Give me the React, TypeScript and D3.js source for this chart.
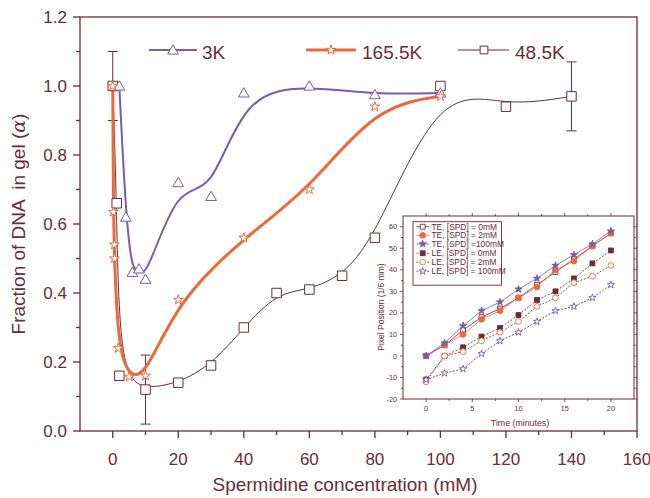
import React from "react";
import * as d3 from "d3";

// ---------- main chart data ----------
const conc3K = [2, 4, 6, 8, 10, 20, 30, 40, 60, 80, 100];
const frac3K = [1.0, 0.62, 0.46, 0.47, 0.44, 0.72, 0.68, 0.98, 1.0, 0.975, 0.98];
const conc165 = [0, 0.2, 0.5, 0.5, 1.7, 5, 10, 20, 40, 60, 80, 100];
const frac165 = [1.0, 0.635, 0.54, 0.5, 0.24, 0.157, 0.16, 0.38, 0.56, 0.7, 0.94, 0.97];
const conc48 = [0, 1.2, 2, 10, 20, 30, 40, 50, 60, 70, 80, 100, 120, 140];
const frac48 = [1.0, 0.66, 0.16, 0.12, 0.14, 0.19, 0.3, 0.4, 0.41, 0.45, 0.56, 1.0, 0.94, 0.97];
const errConc = [0, 10, 140];
const errLow = [0.9, 0.02, 0.87];
const errHigh = [1.1, 0.22, 1.07];
const xTicksMain = [0, 20, 40, 60, 80, 100, 120, 140, 160];
const xMinorMain = [10, 30, 50, 70, 90, 110, 130, 150];
const yTicksMain = [0, 0.2, 0.4, 0.6, 0.8, 1.0, 1.2];
const yMinorMain = [0.1, 0.3, 0.5, 0.7, 0.9, 1.1];

// ---------- inset data ----------
const timeMin = [0, 2, 4, 6, 8, 10, 12, 14, 16, 18, 20];
const te0 = [0, 5, 12, 18, 22, 27, 33, 39, 45, 51, 57];
const te2 = [0, 5, 10, 17, 21, 27, 32, 40, 44, 51, 57];
const te100 = [0, 6, 14, 21, 25, 31, 36, 42, 47, 52, 58];
const le0 = [-11, 0, 4, 9, 13, 19, 26, 30, 36, 43, 49];
const le2 = [-12, 0, 2, 7, 11, 16, 23, 27, 34, 37, 42];
const le100 = [-11, -8, -6, 1, 7, 11, 16, 21, 23, 27, 33];
const insetLabels = [
  "TE, [SPD] = 0mM",
  "TE, [SPD] = 2mM",
  "TE, [SPD] =100mM",
  "LE, [SPD] = 0mM",
  "LE, [SPD] = 2mM",
  "LE, [SPD] = 100mM",
];
const xTicksInset = [0, 5, 10, 15, 20];
const xMinorInset = [2.5, 7.5, 12.5, 17.5];
const yTicksInset = [-20, -10, 0, 10, 20, 30, 40, 50, 60];
const yMinorInset = [-15, -5, 5, 15, 25, 35, 45, 55];

const MAROON = "#6b2b38";
const PURPLE = "#7a5ca8";
const ORANGE = "#ec6a3a";
const FONT = "'Liberation Sans', Arial, Helvetica, sans-serif";

export default function App() {
  const x = d3.scaleLinear().domain([-10, 160]).range([80, 637]);
  const y = d3.scaleLinear().domain([0, 1.2]).range([431, 17]);
  const ix = d3.scaleLinear().domain([-2.5, 22.5]).range([403, 634]);
  const iy = d3.scaleLinear().domain([-20, 65]).range([399, 216]);

  const curve = d3
    .line<[number, number]>()
    .x((d) => x(d[0]))
    .y((d) => y(d[1]))
    .curve(d3.curveBasis);
  const zip = (a: number[], b: number[]) => a.map((v, i) => [v, b[i]] as [number, number]);

  const tri = d3.symbol().type(d3.symbolTriangle).size(50)()!;
  const star = d3.symbol().type(d3.symbolStar).size(30)()!;
  const sq = d3.symbol().type(d3.symbolSquare).size(90)()!;

  const iline = d3
    .line<[number, number]>()
    .x((d) => ix(d[0]))
    .y((d) => iy(d[1]));

  const isq = d3.symbol().type(d3.symbolSquare).size(24)()!;
  const icirc = d3.symbol().type(d3.symbolCircle).size(26)()!;
  const istar = d3.symbol().type(d3.symbolStar).size(16)()!;

  const insetSeries = [
    { vals: te0, color: MAROON, lineColor: MAROON, dash: undefined, sym: isq, fill: "white" },
    { vals: te2, color: ORANGE, lineColor: ORANGE, dash: undefined, sym: icirc, fill: ORANGE },
    { vals: te100, color: PURPLE, lineColor: PURPLE, dash: undefined, sym: istar, fill: PURPLE },
    { vals: le0, color: MAROON, lineColor: MAROON, dash: "2,1.5", sym: isq, fill: MAROON },
    { vals: le2, color: ORANGE, lineColor: MAROON, dash: "2,1.5", sym: icirc, fill: "white" },
    { vals: le100, color: PURPLE, lineColor: MAROON, dash: "2,1.5", sym: istar, fill: "white" },
  ];

  const legendRowsY = [226.7, 235.3, 244, 253.2, 262.2, 271.2];

  return (
    <svg
      width={650}
      height={498}
      style={{ position: "absolute", left: 0, top: 0, background: "white" }}
      fontFamily={FONT}
    >
      {/* main frame */}
      <rect x={80} y={17} width={557} height={414} fill="none" stroke={MAROON} strokeWidth={1.3} />
      {/* y ticks */}
      {yTicksMain.map((t) => (
        <g key={"yt" + t}>
          <line x1={73} x2={80} y1={y(t)} y2={y(t)} stroke={MAROON} strokeWidth={1.3} />
          <text x={67} y={y(t) + 6} textAnchor="end" fontSize={17} fill={MAROON}>
            {t.toFixed(1)}
          </text>
        </g>
      ))}
      {yMinorMain.map((t) => (
        <line key={"ym" + t} x1={76} x2={80} y1={y(t)} y2={y(t)} stroke={MAROON} strokeWidth={1.3} />
      ))}
      {xTicksMain.map((t) => (
        <g key={"xt" + t}>
          <line x1={x(t)} x2={x(t)} y1={431} y2={438} stroke={MAROON} strokeWidth={1.3} />
          <text x={x(t)} y={465} textAnchor="middle" fontSize={17} fill={MAROON}>
            {t}
          </text>
        </g>
      ))}
      {xMinorMain.map((t) => (
        <line key={"xm" + t} x1={x(t)} x2={x(t)} y1={431} y2={435} stroke={MAROON} strokeWidth={1.3} />
      ))}
      <text x={345} y={491} textAnchor="middle" fontSize={19} fill={MAROON}>
        Spermidine concentration (mM)
      </text>
      <text
        transform="translate(25,224) rotate(-90)"
        textAnchor="middle"
        fontSize={19}
        fill={MAROON}
        style={{ whiteSpace: "pre" }}
      >
        {"Fraction of DNA  in gel ("}
        <tspan fontStyle="italic" fontFamily="'DejaVu Serif', serif">α</tspan>
        {")"}
      </text>

      {/* error bars */}
      {errConc.map((c, i) => (
        <g key={"eb" + i} stroke={MAROON} strokeWidth={1}>
          <line x1={x(c)} x2={x(c)} y1={y(errLow[i])} y2={y(errHigh[i])} />
          <line x1={x(c) - 5} x2={x(c) + 5} y1={y(errLow[i])} y2={y(errLow[i])} />
          <line x1={x(c) - 5} x2={x(c) + 5} y1={y(errHigh[i])} y2={y(errHigh[i])} />
        </g>
      ))}

      {/* curves */}
      <path d={curve(zip(conc48, frac48))!} fill="none" stroke={MAROON} strokeWidth={1} />
      <path d={curve(zip(conc3K, frac3K))!} fill="none" stroke={PURPLE} strokeWidth={2} />
      <path d={curve(zip(conc165, frac165))!} fill="none" stroke={ORANGE} strokeWidth={3} />

      {/* markers */}
      {conc48.map((c, i) => (
        <path key={"s48" + i} d={sq} transform={`translate(${x(c)},${y(frac48[i])})`} fill="white" stroke={MAROON} strokeWidth={1} />
      ))}
      {conc3K.map((c, i) => (
        <path key={"s3" + i} d={tri} transform={`translate(${x(c)},${y(frac3K[i]) + 1})`} fill="white" stroke={PURPLE} strokeWidth={1} />
      ))}
      {conc165.map((c, i) => (
        <path key={"s165" + i} d={star} transform={`translate(${x(c)},${y(frac165[i])})`} fill="white" stroke={ORANGE} strokeWidth={1} />
      ))}

      {/* main legend */}
      <line x1={149} x2={197} y1={50} y2={50} stroke={PURPLE} strokeWidth={2} />
      <path d={tri} transform="translate(173,51)" fill="white" stroke={PURPLE} strokeWidth={1} />
      <text x={202} y={58.5} fontSize={19} fill={MAROON}>3K</text>
      <line x1={306} x2={356} y1={50} y2={50} stroke={ORANGE} strokeWidth={3} />
      <path d={star} transform="translate(331,50)" fill="white" stroke={ORANGE} strokeWidth={1} />
      <text x={362} y={58.5} fontSize={19} fill={MAROON}>165.5K</text>
      <line x1={458} x2={509} y1={50} y2={50} stroke={MAROON} strokeWidth={1} />
      <path d={d3.symbol().type(d3.symbolSquare).size(60)()!} transform="translate(484,50)" fill="white" stroke={MAROON} strokeWidth={1} />
      <text x={515} y={58.5} fontSize={19} fill={MAROON}>48.5K</text>

      {/* ---------- inset ---------- */}
      <rect x={403} y={216} width={231} height={183} fill="white" stroke={MAROON} strokeWidth={1} />
      {yTicksInset.map((t) => (
        <g key={"iyt" + t}>
          <line x1={400} x2={403} y1={iy(t)} y2={iy(t)} stroke={MAROON} strokeWidth={0.8} />
          <line x1={634} x2={637} y1={iy(t)} y2={iy(t)} stroke={MAROON} strokeWidth={0.8} />
          <text x={397} y={iy(t) + 2.6} textAnchor="end" fontSize={7.3} fill={MAROON}>
            {t}
          </text>
        </g>
      ))}
      {yMinorInset.map((t) => (
        <g key={"iym" + t}>
          <line x1={401} x2={403} y1={iy(t)} y2={iy(t)} stroke={MAROON} strokeWidth={0.8} />
          <line x1={634} x2={636} y1={iy(t)} y2={iy(t)} stroke={MAROON} strokeWidth={0.8} />
        </g>
      ))}
      {xTicksInset.map((t) => (
        <g key={"ixt" + t}>
          <line x1={ix(t)} x2={ix(t)} y1={399} y2={402} stroke={MAROON} strokeWidth={0.8} />
          <line x1={ix(t)} x2={ix(t)} y1={213} y2={216} stroke={MAROON} strokeWidth={0.8} />
          <text x={ix(t)} y={411} textAnchor="middle" fontSize={7.3} fill={MAROON}>
            {t}
          </text>
        </g>
      ))}
      {xMinorInset.map((t) => (
        <g key={"ixm" + t}>
          <line x1={ix(t)} x2={ix(t)} y1={399} y2={401} stroke={MAROON} strokeWidth={0.8} />
          <line x1={ix(t)} x2={ix(t)} y1={214} y2={216} stroke={MAROON} strokeWidth={0.8} />
        </g>
      ))}
      <text x={520} y={426} textAnchor="middle" fontSize={8.8} fill={MAROON}>
        Time (minutes)
      </text>
      <text transform="translate(384,307) rotate(-90)" textAnchor="middle" fontSize={8.5} fill={MAROON}>
        Pixel Position (1/6 mm)
      </text>

      {insetSeries.map((s, k) => (
        <g key={"is" + k}>
          <path
            d={iline(zip(timeMin, s.vals))!}
            fill="none"
            stroke={s.lineColor}
            strokeWidth={0.8}
            strokeDasharray={s.dash}
          />
          {timeMin.map((t, i) => (
            <path
              key={i}
              d={s.sym}
              transform={`translate(${ix(t)},${iy(s.vals[i])})`}
              fill={s.fill}
              stroke={s.color}
              strokeWidth={0.9}
            />
          ))}
        </g>
      ))}

      {/* inset legend */}
      <rect x={413} y={221.7} width={88.5} height={63.5} fill="white" stroke={MAROON} strokeWidth={0.9} />
      {insetSeries.map((s, k) => (
        <g key={"il" + k}>
          <line
            x1={416.5}
            x2={429}
            y1={legendRowsY[k]}
            y2={legendRowsY[k]}
            stroke={s.lineColor}
            strokeWidth={0.8}
            strokeDasharray={s.dash}
          />
          <path d={s.sym} transform={`translate(422.7,${legendRowsY[k]})`} fill={s.fill} stroke={s.color} strokeWidth={0.9} />
          <text x={431.5} y={legendRowsY[k] + 3} fontSize={8.4} fill={MAROON}>
            {insetLabels[k]}
          </text>
        </g>
      ))}
    </svg>
  );
}
